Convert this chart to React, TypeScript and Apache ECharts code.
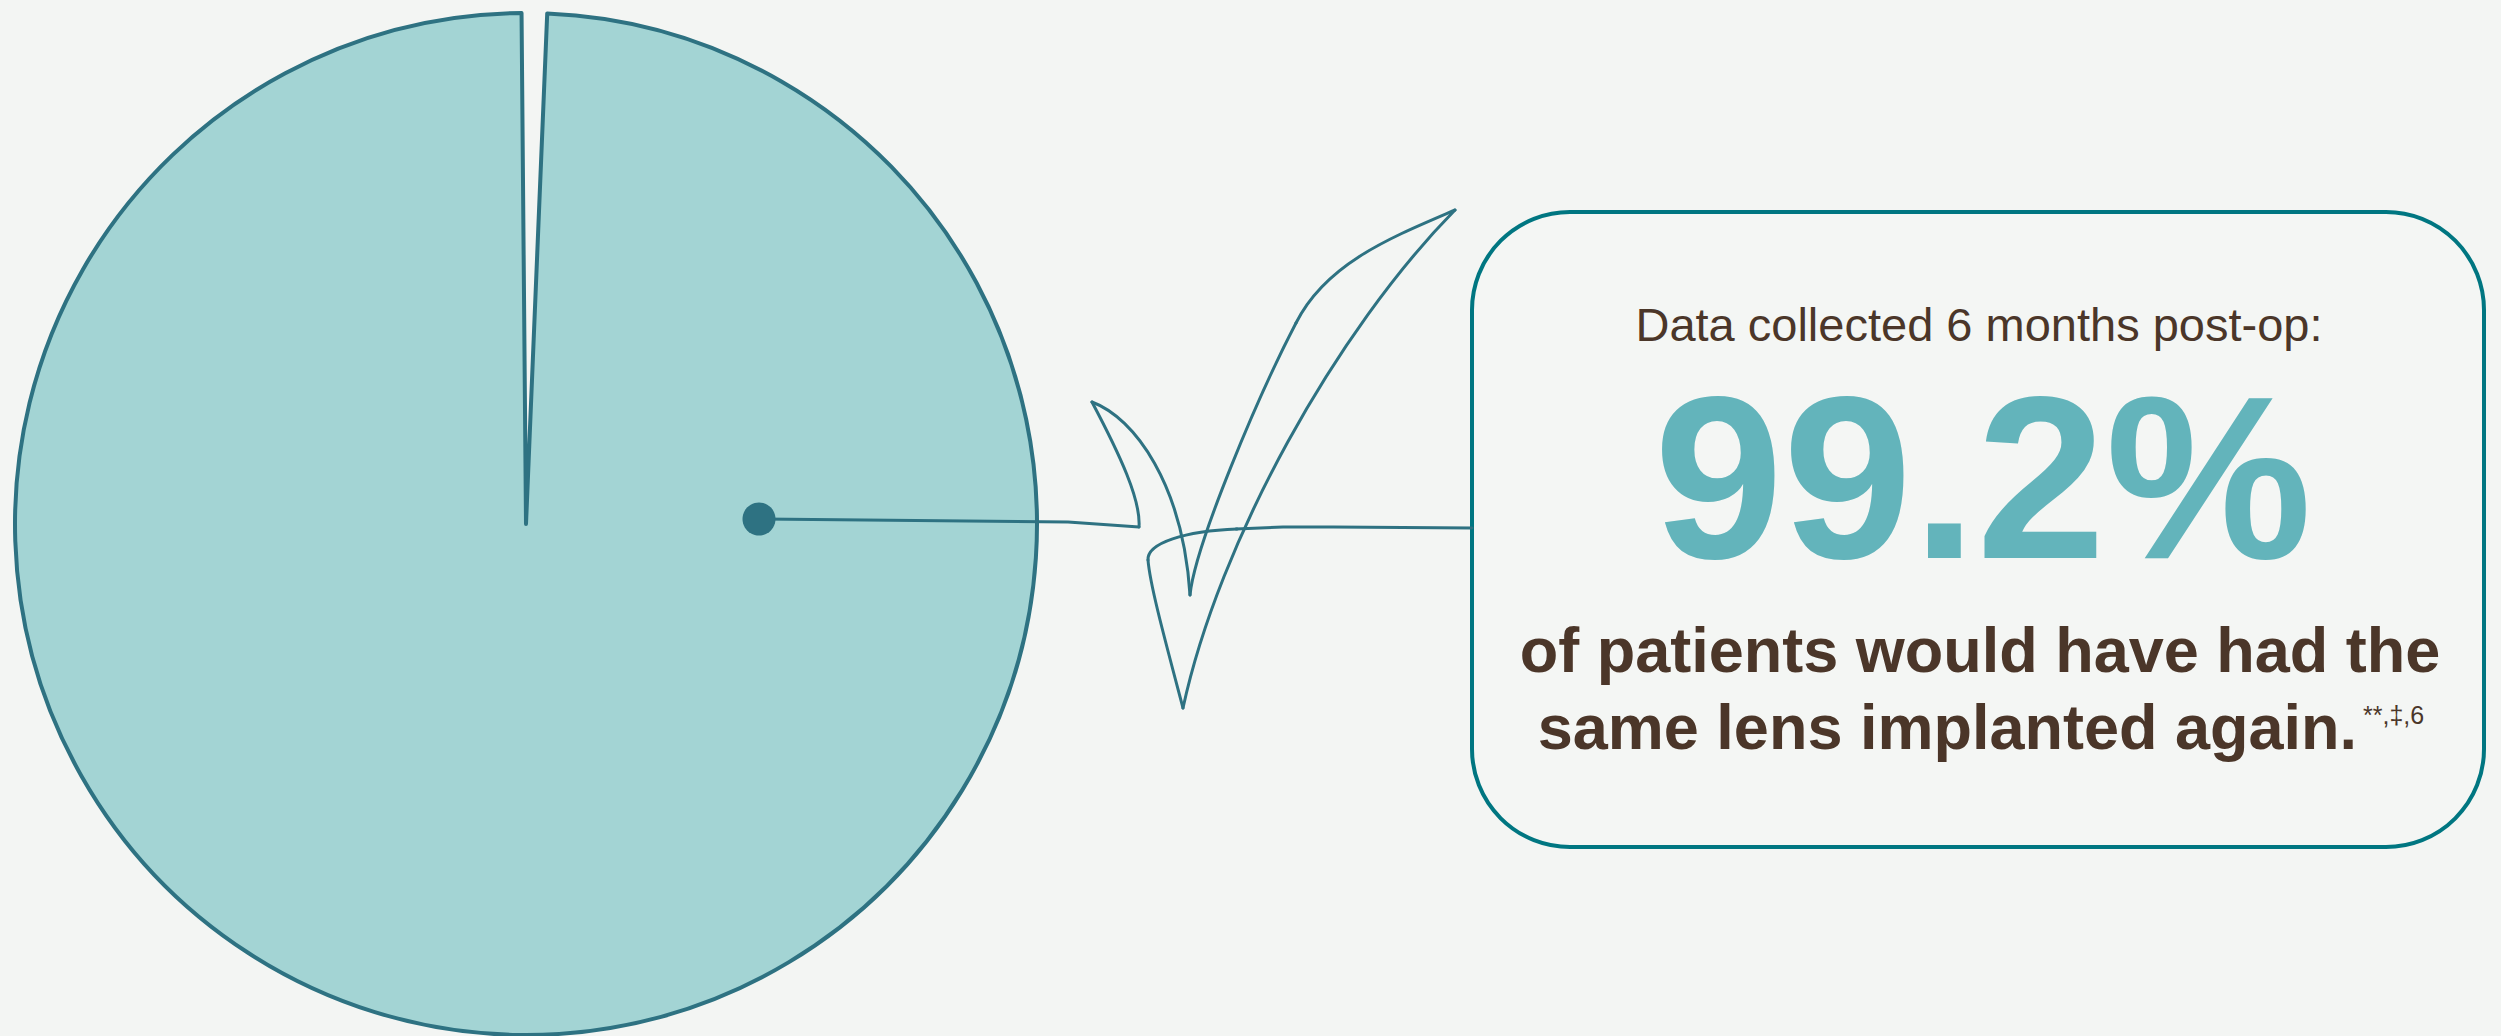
import React, { useEffect, useRef } from "react";
import * as echarts from "echarts";

// ---- data ----
const sliceNames = ["Would not have the same lens implanted again", "Would have the same lens implanted again"];
const sliceValues = [0.8, 99.2];
const headline = "99.2%";
const introText = "Data collected 6 months post-op:";
const bodyLine1 = "of patients would have had the";
const bodyLine2 = "same lens implanted again.";
const footnoteMarks = "**,\u2021,6";

// ---- decoration geometry (hand-drawn check mark) ----
// straight connectors: [x, y] points
const connectorPts = [[759, 519], [1068, 522], [1139, 527]];
const boxConnectorPts = [[1236, 529], [1283, 527], [1333, 527], [1472, 528]];
// cubic curves: [x1, y1, cpx1, cpy1, cpx2, cpy2, x2, y2]
const checkCurves = [
  [1139, 527, 1141, 500, 1120, 455, 1092, 402], // flag outer
  [1092, 402, 1135, 418, 1183, 485, 1190, 595], // flag inner
  [1190, 595, 1195, 545, 1258, 396, 1296, 323], // long inner stroke, lower
  [1296, 323, 1326, 263, 1392, 237, 1455, 210], // long inner stroke, upper
  [1455, 210, 1336, 331, 1219, 541, 1183, 708], // long outer stroke
  [1183, 708, 1165, 640, 1150, 585, 1148, 560], // back up
  [1148, 560, 1147, 543, 1185, 531, 1237, 529], // curl
];

const TEAL_DARK = "#2e7282";
const BOX_TEAL = "#007681";
const PIE_FILL = "#a3d4d4";
const BROWN = "#4b3629";
const BIG_TEAL = "#63b4bb";
const BG = "#f3f5f3";
const FONT = "'Liberation Sans', Arial, Helvetica, sans-serif";

export default function App() {
  const ref = useRef<HTMLDivElement>(null);
  useEffect(() => {
    document.body.style.margin = "0";
    const chart = echarts.init(ref.current!, null, { renderer: "svg" });
    const strokeStyle = { stroke: TEAL_DARK, lineWidth: 3, fill: null, lineCap: "round", lineJoin: "round" };
    const line = (pts: number[][]) => ({
      type: "polyline",
      z: 10,
      silent: true,
      shape: { points: pts },
      style: { ...strokeStyle },
    });
    const curve = (c: number[]) => ({
      type: "bezierCurve",
      z: 10,
      silent: true,
      shape: { x1: c[0], y1: c[1], cpx1: c[2], cpy1: c[3], cpx2: c[4], cpy2: c[5], x2: c[6], y2: c[7] },
      style: { ...strokeStyle },
    });
    const text = (t: string, x: number, y: number, size: number, bold: boolean, fill: string, align: string) => ({
      type: "text",
      z: 12,
      silent: true,
      style: {
        text: t,
        x,
        y,
        fontFamily: FONT,
        fontSize: size,
        fontWeight: bold ? "bold" : "normal",
        fill,
        textAlign: align,
        textVerticalAlign: "middle",
      },
    });
    const option: any = {
      animation: false,
      backgroundColor: BG,
      series: [
        {
          type: "pie",
          center: [526, 524],
          radius: [0, 511],
          startAngle: 90.5,
          clockwise: true,
          silent: true,
          label: { show: false },
          labelLine: { show: false },
          emphasis: { disabled: true },
          data: [
            { name: sliceNames[0], value: sliceValues[0], itemStyle: { color: "rgba(0,0,0,0)", borderWidth: 0 } },
            {
              name: sliceNames[1],
              value: sliceValues[1],
              itemStyle: { color: PIE_FILL, borderColor: TEAL_DARK, borderWidth: 4, borderJoin: "round" },
            },
          ],
        },
      ],
      graphic: [
        line(connectorPts),
        line(boxConnectorPts),
        ...checkCurves.map(curve),
        {
          type: "circle",
          z: 11,
          silent: true,
          shape: { cx: 759, cy: 519, r: 16.5 },
          style: { fill: TEAL_DARK },
        },
        {
          type: "rect",
          z: 5,
          silent: true,
          shape: { x: 1472, y: 212, width: 1012, height: 635, r: 98 },
          style: { fill: "rgba(255,255,255,0.15)", stroke: BOX_TEAL, lineWidth: 4 },
        },
        text(introText, 1979, 324, 47, false, BROWN, "center"),
        text(headline, 1983, 477, 232, true, BIG_TEAL, "center"),
        text(bodyLine1, 1980, 650, 63, true, BROWN, "center"),
        text(bodyLine2, 2357, 727, 63, true, BROWN, "right"),
        text(footnoteMarks, 2363, 715, 25, false, BROWN, "left"),
      ],
    };
    chart.setOption(option);
    return () => chart.dispose();
  }, []);
  return (
    <div
      ref={ref}
      style={{ position: "absolute", left: 0, top: 0, width: 2501, height: 1036, background: BG }}
    />
  );
}
